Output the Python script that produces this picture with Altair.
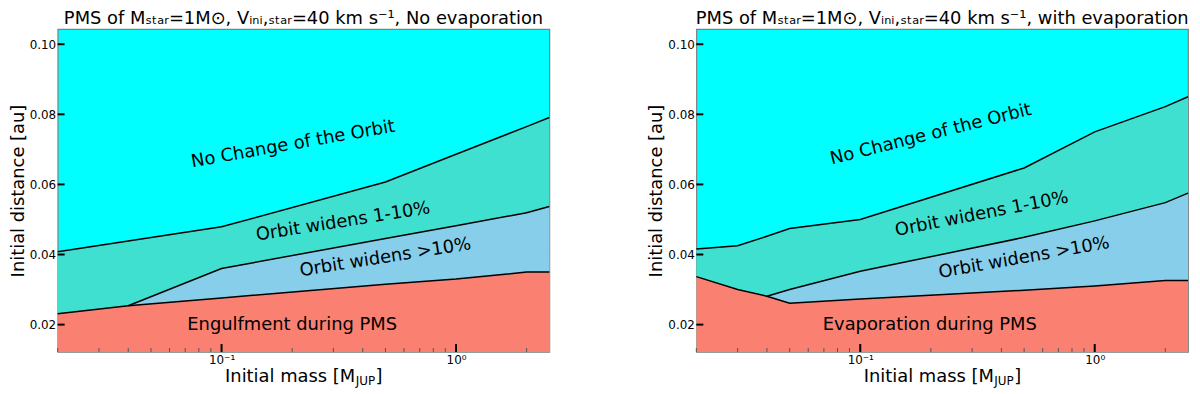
import altair as alt
import pandas as pd

# ---------------- data ----------------
# Left panel: no evaporation
L_TOP_M = [0.02, 0.1, 0.5, 1.0, 2.0, 2.5]
L_TOP_A = [0.0408, 0.0479, 0.0607, 0.0686, 0.0765, 0.0791]
L_MID_M = [0.04, 0.1, 0.5, 1.0, 2.0, 2.5]
L_MID_A = [0.0254, 0.0360, 0.0446, 0.0482, 0.0519, 0.0537]
L_LOW_M = [0.02, 0.04, 0.1, 0.5, 1.0, 2.0, 2.5]
L_LOW_A = [0.0231, 0.0254, 0.0276, 0.0315, 0.0330, 0.0350, 0.0350]

# Right panel: with evaporation
R_TOP_M = [0.02, 0.03, 0.04, 0.05, 0.1, 0.5, 1.0, 2.0, 2.5]
R_TOP_A = [0.0416, 0.0425, 0.0452, 0.0474, 0.0500, 0.0647, 0.0750, 0.0822, 0.0850]
R_MID_M = [0.04, 0.05, 0.1, 0.5, 1.0, 2.0, 2.5]
R_MID_A = [0.0281, 0.0300, 0.0352, 0.0449, 0.0496, 0.0548, 0.0575]
R_LOW_M = [0.02, 0.03, 0.04, 0.05, 0.1, 0.5, 1.0, 2.0, 2.5]
R_LOW_A = [0.0337, 0.0300, 0.0281, 0.0261, 0.0273, 0.0298, 0.0310, 0.0326, 0.0326]

L_LABELS = ["No Change of the Orbit", "Orbit widens 1-10%", "Orbit widens >10%",
            "Engulfment during PMS"]
L_LABEL_M = [0.202, 0.33, 0.50, 0.20]
L_LABEL_A = [0.0714, 0.0493, 0.0391, 0.0198]
L_LABEL_ANGLE = [350, 351, 351, 0]

R_LABELS = ["No Change of the Orbit", "Orbit widens 1-10%", "Orbit widens >10%",
            "Evaporation during PMS"]
R_LABEL_M = [0.20, 0.33, 0.50, 0.198]
R_LABEL_A = [0.0742, 0.0515, 0.0390, 0.0198]
R_LABEL_ANGLE = [346, 349, 350, 0]

L_TITLE = "PMS of Mₛₜₐᵣ=1M⊙, Vᵢₙᵢ,ₛₜₐᵣ=40 km s⁻¹, No evaporation"
R_TITLE = "PMS of Mₛₜₐᵣ=1M⊙, Vᵢₙᵢ,ₛₜₐᵣ=40 km s⁻¹, with evaporation"

X_DOMAIN = [0.02, 2.5]
Y_DOMAIN = [0.0122, 0.1043]
Y_TICKS = [0.02, 0.04, 0.06, 0.08, 0.10]
X_MAJOR = [0.1, 1.0]
X_MINOR = [0.02, 0.03, 0.04, 0.05, 0.06, 0.07, 0.08, 0.09,
           0.2, 0.3, 0.4, 0.5, 0.6, 0.7, 0.8, 0.9, 2.0]

# ---------------- style ----------------
W, H = 495, 325
FONT = "DejaVu Sans"
CYAN = "#00FFFF"
TURQ = "#40E0D0"
SKY = "#87CEEB"
SALMON = "#FA8072"

xscale = alt.Scale(type="log", domain=X_DOMAIN, nice=False)
yscale = alt.Scale(domain=Y_DOMAIN, nice=False, zero=False)

xax = alt.Axis(values=X_MAJOR, tickSize=0, domain=False, grid=False,
               labelExpr="datum.value < 0.5 ? '10⁻¹' : '10⁰'",
               labelFontSize=12, labelPadding=3, title=None, labelFont=FONT)
yax = alt.Axis(values=Y_TICKS, format=".2f", tickSize=0, domain=False, grid=False,
               labelFontSize=12, labelPadding=2, title="Initial distance [au]",
               titleFontSize=18, titleFontWeight="normal", titlePadding=2,
               labelFont=FONT, titleFont=FONT)

X = lambda: alt.X("m:Q", scale=xscale, axis=xax)
Y = lambda: alt.Y("a:Q", scale=yscale, axis=yax)


def panel(top_m, top_a, mid_m, mid_a, low_m, low_a, labels, lm, la, lang, title):
    top = pd.DataFrame({"m": top_m, "a": top_a})
    mid = pd.DataFrame({"m": mid_m, "a": mid_a})
    low = pd.DataFrame({"m": low_m, "a": low_a})

    def area(df, color):
        return alt.Chart(df).mark_area(color=color, opacity=1).encode(
            x=X(), y=Y(), y2=alt.datum(Y_DOMAIN[0]))

    def line(df):
        return alt.Chart(df).mark_line(color="black", strokeWidth=1.5).encode(
            x=X(), y=Y())

    lab = pd.DataFrame({"t": labels, "m": lm, "a": la, "ang": lang})
    text = alt.Chart(lab).mark_text(fontSize=18, font=FONT, color="black",
                                    align="center", baseline="middle").encode(
        x=X(), y=Y(), text="t:N", angle=alt.Angle("ang:Q", scale=None))

    ytick = alt.Chart(pd.DataFrame({"a": Y_TICKS})).mark_rule(
        color="black", strokeWidth=2).encode(y=Y(), x=alt.value(0), x2=alt.value(7))
    xmaj = alt.Chart(pd.DataFrame({"m": X_MAJOR})).mark_rule(
        color="black", strokeWidth=2).encode(x=X(), y=alt.value(H), y2=alt.value(H - 8))
    xmin = alt.Chart(pd.DataFrame({"m": X_MINOR})).mark_rule(
        color="#555555", strokeWidth=1).encode(x=X(), y=alt.value(H), y2=alt.value(H - 4))

    one = pd.DataFrame({"k": [0]})
    cx = W / 2
    t1 = alt.Chart(one).mark_text(text="Initial mass [M", fontSize=18, font=FONT,
                                  align="right", baseline="alphabetic", color="black").encode(
        x=alt.value(cx + 52), y=alt.value(H + 30.5))
    t2 = alt.Chart(one).mark_text(text="JUP", fontSize=12, font=FONT,
                                  align="left", baseline="alphabetic", color="black").encode(
        x=alt.value(cx + 52.5), y=alt.value(H + 33))
    t3 = alt.Chart(one).mark_text(text="]", fontSize=18, font=FONT,
                                  align="left", baseline="alphabetic", color="black").encode(
        x=alt.value(cx + 72.5), y=alt.value(H + 30.5))

    return alt.layer(
        area(top, TURQ), area(mid, SKY), area(low, SALMON),
        line(top), line(mid), line(low), text, xmin, xmaj, ytick, t1, t2, t3,
    ).properties(
        width=W, height=H,
        title=alt.TitleParams(title, fontSize=18, font=FONT, fontWeight="normal",
                              anchor="middle", color="black", offset=1),
    )


left = panel(L_TOP_M, L_TOP_A, L_MID_M, L_MID_A, L_LOW_M, L_LOW_A,
             L_LABELS, L_LABEL_M, L_LABEL_A, L_LABEL_ANGLE, L_TITLE)
right = panel(R_TOP_M, R_TOP_A, R_MID_M, R_MID_A, R_LOW_M, R_LOW_A,
              R_LABELS, R_LABEL_M, R_LABEL_A, R_LABEL_ANGLE, R_TITLE)

chart = alt.hconcat(left, right, spacing=94).properties(
    padding={"left": 0, "top": 0, "right": 0, "bottom": -1},
    background="white",
).configure_view(
    fill=CYAN, stroke="#808080", strokeWidth=1.2
).configure_axis(
    labelColor="black", titleColor="black"
)

chart.save("out.html", embed_options={"renderer": "svg", "actions": False})
